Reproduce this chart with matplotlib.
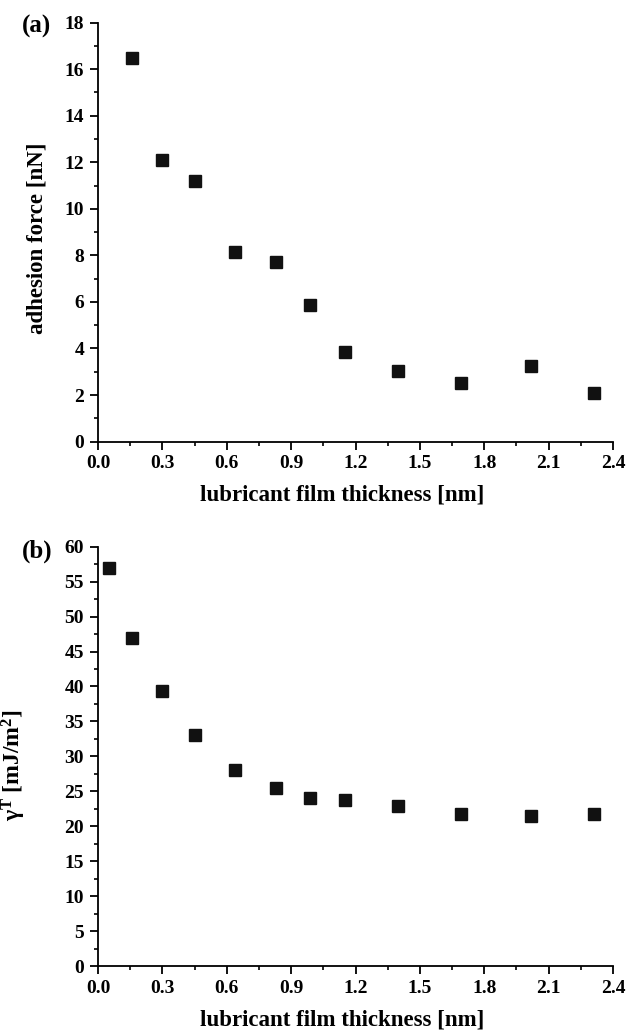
import matplotlib
matplotlib.use("Agg")
import matplotlib.pyplot as plt
from matplotlib.ticker import MultipleLocator

plt.rcParams['font.family'] = ['Liberation Serif', 'DejaVu Serif']
plt.rcParams['font.weight'] = 'bold'
plt.rcParams['mathtext.fontset'] = 'custom'
plt.rcParams['mathtext.rm'] = 'Liberation Serif:bold'
plt.rcParams['mathtext.bf'] = 'Liberation Serif:bold'
plt.rcParams['mathtext.it'] = 'Liberation Serif:bold'

# (a) adhesion force vs lubricant thickness
thick_a = [0.16, 0.30, 0.45, 0.64, 0.83, 0.99, 1.15, 1.40, 1.69, 2.02, 2.31]
force = [16.5, 12.1, 11.2, 8.14, 7.72, 5.85, 3.86, 3.02, 2.52, 3.26, 2.08]

# (b) surface energy vs lubricant thickness
thick_b = [0.05, 0.16, 0.30, 0.45, 0.64, 0.83, 0.99, 1.15, 1.40, 1.69, 2.02, 2.31]
gamma = [57.0, 46.9, 39.3, 33.0, 28.1, 25.5, 24.1, 23.8, 22.9, 21.8, 21.5, 21.8]

fig = plt.figure(figsize=(6.27, 10.30), dpi=100)
ax1 = fig.add_axes([0.1563, 0.5713, 0.8214, 0.4067])
ax2 = fig.add_axes([0.1563, 0.0621, 0.8214, 0.4071])


def style(ax, ymax, ymaj):
    ax.set_xlim(0, 2.4)
    ax.set_ylim(0, ymax)
    ax.xaxis.set_major_locator(MultipleLocator(0.3))
    ax.xaxis.set_minor_locator(MultipleLocator(0.15))
    ax.yaxis.set_major_locator(MultipleLocator(ymaj))
    ax.yaxis.set_minor_locator(MultipleLocator(ymaj / 2))
    ax.xaxis.set_major_formatter(lambda v, p: f"{v:.1f}")
    ax.spines['top'].set_visible(False)
    ax.spines['right'].set_visible(False)
    for s in ('left', 'bottom'):
        ax.spines[s].set_linewidth(1.3)
    ax.tick_params(which='major', direction='out', length=6, width=1.3,
                   labelsize=14, pad=4)
    ax.tick_params(which='minor', direction='out', length=3.2, width=1.2)
    for lab in ax.get_xticklabels() + ax.get_yticklabels():
        lab.set_fontweight('bold')
    ax.set_xlabel('lubricant film thickness [nm]', fontsize=16.5,
                  fontweight='bold', labelpad=9)
    ax.xaxis.label.set_x(0.474)


ax1.plot(thick_a, force, 's', color='#111111', markersize=8.6, clip_on=False)
style(ax1, 18, 2)
ax1.set_ylabel('adhesion force [nN]', fontsize=16.5, fontweight='bold')
ax1.yaxis.set_label_coords(-0.099, 0.486)

ax2.plot(thick_b, gamma, 's', color='#111111', markersize=8.6, clip_on=False)
style(ax2, 60, 5)
ax2.set_ylabel(r'γ$^{\mathrm{T}}$ [mJ/m$^{\mathrm{2}}$]', fontsize=17,
               fontweight='bold')
ax2.yaxis.set_label_coords(-0.135, 0.479)

fig.text(22 / 627, 1 - 26 / 1030, '(a)', fontsize=18, fontweight='bold',
         va='center', ha='left')
fig.text(22 / 627, 1 - 551 / 1030, '(b)', fontsize=18, fontweight='bold',
         va='center', ha='left')

fig.savefig('out.png', dpi=100)
